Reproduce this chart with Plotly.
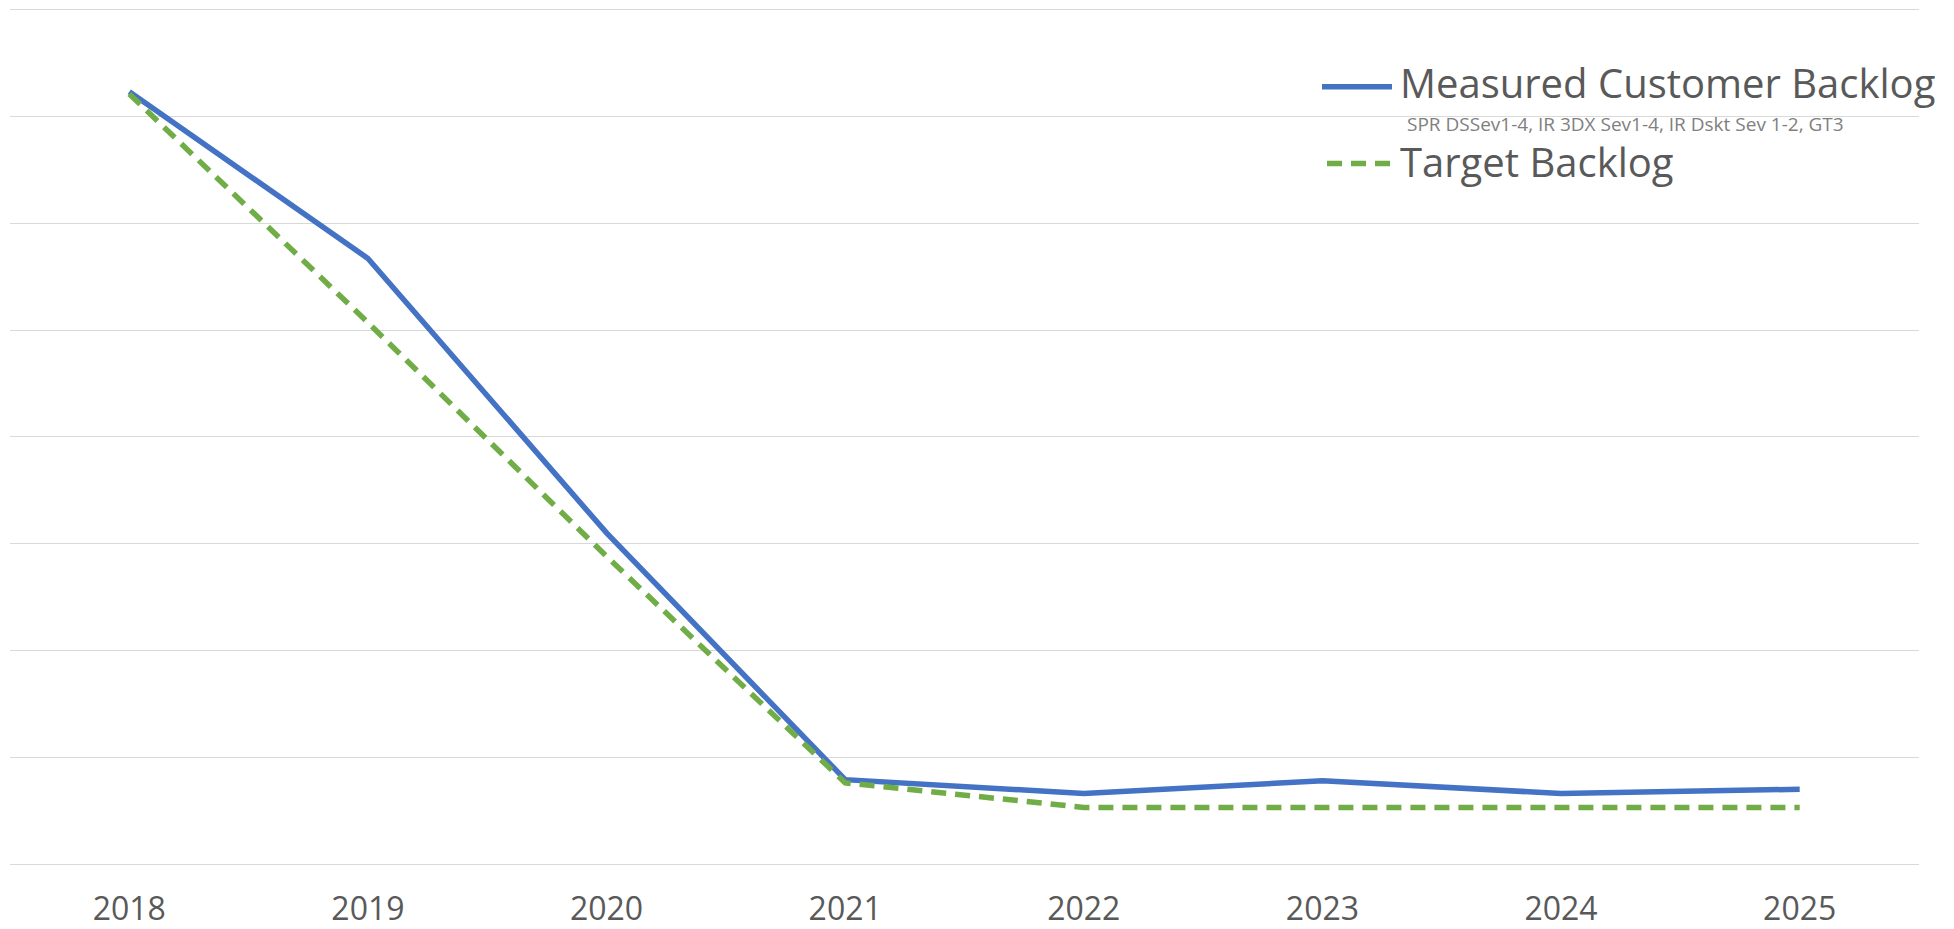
import plotly.graph_objects as go

years = ["2018", "2019", "2020", "2021", "2022", "2023", "2024", "2025"]
measured = [7.23, 5.67, 3.10, 0.79, 0.66, 0.78, 0.66, 0.70]
target = [7.21, 5.07, 2.88, 0.76, 0.53, 0.53, 0.53, 0.53]

measured_name = "Measured Customer Backlog"
measured_sub = "SPR DSSev1-4, IR 3DX Sev1-4, IR Dskt Sev 1-2, GT3"
target_name = "Target Backlog"

BLUE = "#4472C4"
GREEN = "#70AD47"
TXT = "#595959"
FONT = "Open Sans, Noto Sans, sans-serif"

# page has an 8px body margin; figure coordinates are page - 8
OFF = 8
W, H = 1954 - OFF, 929 - OFF
ML, MR, MT, MB = 10 - OFF, 1954 - 1919, 0, 929 - 867
PW, PH = W - ML - MR, H - MT - MB
YTOP = 8.015

def px(x):
    return (x - OFF - ML) / PW

def py(y):
    return 1 - (y - OFF - MT) / PH

fig = go.Figure()
fig.add_trace(go.Scatter(x=years, y=measured, mode="lines", name=measured_name,
                         line=dict(color=BLUE, width=5.5), showlegend=False))
fig.add_trace(go.Scatter(x=years, y=target, mode="lines", name=target_name,
                         line=dict(color=GREEN, width=5.5, dash="15px,9px"), showlegend=False))

# manual legend
fig.add_shape(type="line", xref="paper", yref="paper", x0=px(1322), x1=px(1392), y0=py(87), y1=py(87),
              line=dict(color=BLUE, width=5.5))
fig.add_shape(type="line", xref="paper", yref="paper", x0=px(1327), x1=px(1394), y0=py(164), y1=py(164),
              line=dict(color=GREEN, width=5.5, dash="15px,9px"))
fig.add_annotation(xref="paper", yref="paper", x=px(1398), y=py(83), xanchor="left", yanchor="middle",
                   text=measured_name, showarrow=False, font=dict(family=FONT, size=40, color=TXT))
fig.add_annotation(xref="paper", yref="paper", x=px(1405), y=py(124), xanchor="left", yanchor="middle",
                   text=measured_sub, showarrow=False, font=dict(family=FONT, size=19, color="#808080"))
fig.add_annotation(xref="paper", yref="paper", x=px(1398), y=py(162), xanchor="left", yanchor="middle",
                   text=target_name, showarrow=False, font=dict(family=FONT, size=40, color=TXT))

fig.update_layout(
    width=W, height=H,
    margin=dict(l=ML, r=MR, t=MT, b=MB),
    paper_bgcolor="white", plot_bgcolor="white",
    font=dict(family=FONT, color=TXT),
    xaxis=dict(type="category", range=[-0.5, 7.5], showgrid=False, zeroline=False,
               showline=False, ticks="", tickfont=dict(size=32, color=TXT),
               ticklabelstandoff=23),
    yaxis=dict(range=[0, YTOP], tickvals=[0, 1, 2, 3, 4, 5, 6, 7, 8], showgrid=True,
               gridcolor="#d9d9d9", gridwidth=1.3,
               zeroline=True, zerolinecolor="#d9d9d9", zerolinewidth=1.3,
               showticklabels=False, ticks=""),
)

fig.write_html("out.html")
